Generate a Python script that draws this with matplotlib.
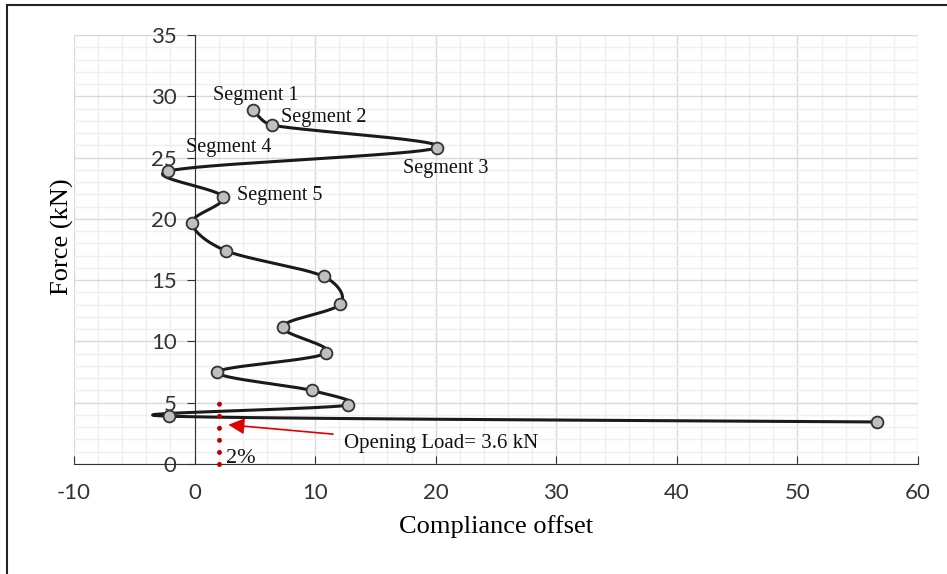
import numpy as np
import matplotlib.pyplot as plt
from matplotlib.patches import Rectangle
from matplotlib.ticker import MultipleLocator

# Data (compliance offset vs force)
offset = [4.84, 6.43, 20.1, -2.2, 2.35, -0.2, 2.6, 10.7, 12.1, 7.3, 10.9, 1.9, 9.7, 12.7, -2.1, 56.6]
force = [28.9, 27.65, 25.8, 23.9, 21.8, 19.7, 17.4, 15.3, 13.05, 11.2, 9.05, 7.5, 6.0, 4.8, 3.9, 3.43]

seg_labels = ["Segment 1", "Segment 2", "Segment 3", "Segment 4", "Segment 5"]
seg_pos = [(5.1, 30.1), (7.2, 28.3), (20.8, 24.1), (2.8, 25.8), (3.5, 21.9)]
seg_ha = ["center", "left", "center", "center", "left"]

limit_x = 2.0
limit_top = 5.0
opening_load = 3.6


def smooth(xs, ys, n=40, cap=0.45):
    # Catmull-Rom style smoothed line, handles capped relative to segment length
    p = np.column_stack([xs, ys]).astype(float)
    pts = np.vstack([p[0], p, p[-1]])
    out = []
    for i in range(1, len(pts) - 2):
        p0, p1, p2, p3 = pts[i - 1], pts[i], pts[i + 1], pts[i + 2]
        d = np.linalg.norm(p2 - p1)
        h1 = (p2 - p0) / 6
        h2 = (p3 - p1) / 6
        if np.linalg.norm(h1) > cap * d:
            h1 = h1 / np.linalg.norm(h1) * cap * d
        if np.linalg.norm(h2) > cap * d:
            h2 = h2 / np.linalg.norm(h2) * cap * d
        c1 = p1 + h1
        c2 = p2 - h2
        t = np.linspace(0, 1, n)[:, None]
        seg = ((1 - t) ** 3) * p1 + 3 * ((1 - t) ** 2) * t * c1 + 3 * (1 - t) * t ** 2 * c2 + t ** 3 * p2
        out.append(seg)
    out = np.vstack(out)
    return out[:, 0], out[:, 1]


plt.rcParams['font.family'] = ['Liberation Serif', 'DejaVu Serif']
plt.rcParams['axes.unicode_minus'] = False

fig = plt.figure(figsize=(9.47, 5.74), dpi=100)
ax = fig.add_axes([74 / 947, 1 - 464 / 574, 844 / 947, 429 / 574])

# outer chart border
fig.patches.append(Rectangle((7 / 947, -0.05), 1.1, (574 - 5) / 574 + 0.05, transform=fig.transFigure,
                             fill=False, edgecolor='#222222', linewidth=1.5))

ax.set_xlim(-10, 60)
ax.set_ylim(0, 35)
ax.xaxis.set_major_locator(MultipleLocator(10))
ax.xaxis.set_minor_locator(MultipleLocator(2))
ax.yaxis.set_major_locator(MultipleLocator(5))
ax.yaxis.set_minor_locator(MultipleLocator(1))
ax.grid(which='major', color='#d9d9d9', linewidth=1.0)
ax.grid(which='minor', color='#efefef', linewidth=1.0)
ax.set_axisbelow(True)

for s in ['top', 'right']:
    ax.spines[s].set_visible(False)
ax.spines['left'].set_position(('data', 0))
ax.spines['left'].set_color('#333333')
ax.spines['bottom'].set_color('#333333')

ax.tick_params(axis='x', which='major', direction='in', length=6, pad=14, labelsize=16,
               color='#333333', labelcolor='#333333')
ax.tick_params(axis='y', which='major', direction='out', length=6, pad=7, labelsize=16,
               color='#333333', labelcolor='#333333')
ax.tick_params(which='minor', length=0)
for lab in ax.get_xticklabels() + ax.get_yticklabels():
    lab.set_family(['Lato', 'DejaVu Sans'])

sx, sy = smooth(offset, force)
ax.plot(sx, sy, color='#1a1a1a', linewidth=2.2, zorder=3)
ax.plot(offset, force, linestyle='none', marker='o', markersize=8.5,
        markerfacecolor='#bfbfbf', markeredgecolor='#333333', markeredgewidth=1.3, zorder=4)

for lab, (lx, ly), ha in zip(seg_labels, seg_pos, seg_ha):
    ax.text(lx, ly, lab, fontsize=14.5, ha=ha, va='center', color='#111111', zorder=5)

# 2% offset limit
ax.plot([limit_x, limit_x], [0, limit_top], color='#c00000', linewidth=3.6,
        linestyle=(0, (0.01, 2.4)), dash_capstyle='round', zorder=5, clip_on=False)
ax.text(limit_x + 0.6, 0.45, "2%", fontsize=16, ha='left', va='center', color='#111111')

ax.annotate("Opening Load= " + str(opening_load) + " kN", xy=(2.8, 3.2), xytext=(12.4, 1.65),
            fontsize=15, ha='left', va='center', color='#111111',
            arrowprops=dict(arrowstyle='-|>', color='#e00000', lw=1.2, mutation_scale=24,
                            shrinkA=6, shrinkB=0))

ax.set_xlabel("Compliance offset", fontsize=19, labelpad=8)
ax.set_ylabel("Force (kN)", fontsize=19)
ax.yaxis.set_label_coords(0.0, 0.53)

fig.savefig("out.png", dpi=100)
